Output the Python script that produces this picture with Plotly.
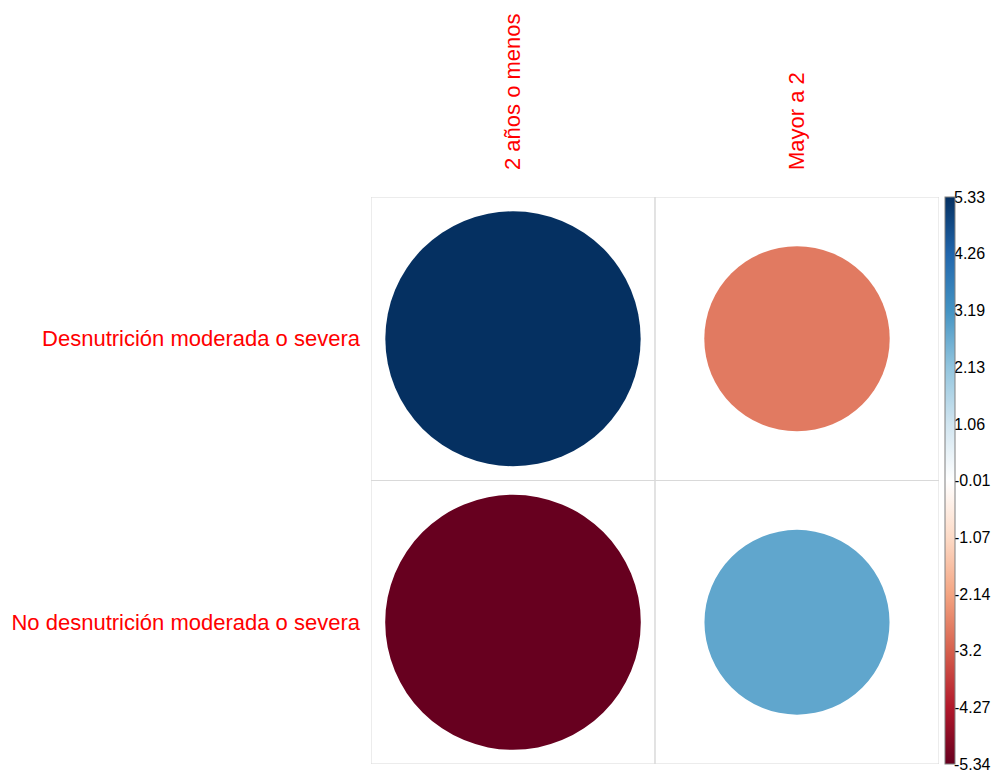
import math
import plotly.graph_objects as go

# Pearson residuals of the contingency table (rows x columns)
row_labels = ["Desnutrición moderada o severa", "No desnutrición moderada o severa"]
col_labels = ["2 años o menos", "Mayor a 2"]
residuals = [
    [5.33, -2.81],
    [-5.34, 2.80],
]

# colour bar limits and tick labels
cl_min, cl_max = -5.34, 5.33
cbar_ticks = [-5.34, -4.27, -3.2, -2.14, -1.07, -0.01, 1.06, 2.13, 3.19, 4.26, 5.33]

# diverging red-blue palette
palette = ["#67001F", "#B2182B", "#D6604D", "#F4A582", "#FDDBC7", "#FFFFFF",
           "#D1E5F0", "#92C5DE", "#4393C3", "#2166AC", "#053061"]
colorscale = [[i / (len(palette) - 1), c] for i, c in enumerate(palette)]


def hex_rgb(h):
    h = h.lstrip("#")
    return tuple(int(h[k:k + 2], 16) for k in (0, 2, 4))


def value_color(v):
    t = (v - cl_min) / (cl_max - cl_min)
    t = min(max(t, 0.0), 1.0)
    pos = t * (len(palette) - 1)
    i = min(int(math.floor(pos)), len(palette) - 2)
    f = pos - i
    a, b = hex_rgb(palette[i]), hex_rgb(palette[i + 1])
    r, g, bl = (round(a[k] + (b[k] - a[k]) * f) for k in range(3))
    return f"rgb({r},{g},{bl})"


n_rows, n_cols = len(row_labels), len(col_labels)
max_abs = max(abs(v) for row in residuals for v in row)
font = "Liberation Sans, Arial, sans-serif"

# figure geometry (pixels)
W, H = 992, 778
left, top, bottom = 371, 197, 14
paper_w = W - left
grid_right = 939
bar_left, bar_w = 945, 10
x_dom_end = (grid_right - left) / paper_w

shapes = []
# cell grid
for i in range(n_rows):
    for j in range(n_cols):
        cx, cy = j + 1, n_rows - i
        shapes.append(dict(type="rect", xref="x", yref="y",
                           x0=cx - 0.5, x1=cx + 0.5, y0=cy - 0.5, y1=cy + 0.5,
                           line=dict(color="#D9D9D9", width=1), layer="below"))
# circles: area proportional to |residual|
xs, vs = [], []
for i in range(n_rows):
    for j in range(n_cols):
        v = residuals[i][j]
        cx, cy = j + 1, n_rows - i
        r = 0.45 * math.sqrt(abs(v) / max_abs)
        shapes.append(dict(type="circle", xref="x", yref="y",
                           x0=cx - r, x1=cx + r, y0=cy - r, y1=cy + r,
                           fillcolor=value_color(v), line=dict(width=0),
                           layer="above"))
        xs.append(cx)
        vs.append(v)

fig = go.Figure()
# invisible markers carrying the colour scale (drawn on the colour-bar axis)
fig.add_trace(go.Scatter(
    x=xs, y=vs, xaxis="x", yaxis="y2", mode="markers", hoverinfo="skip",
    marker=dict(size=1, opacity=0, color=vs, colorscale=colorscale,
                cmin=cl_min, cmax=cl_max, showscale=True,
                colorbar=dict(
                    thickness=bar_w, thicknessmode="pixels",
                    len=1, lenmode="fraction", y=0.5, yanchor="middle",
                    x=(bar_left - left) / paper_w, xanchor="left",
                    xpad=0, ypad=0,
                    outlinecolor="#808080", outlinewidth=1,
                    showticklabels=False, ticks="",
                )),
))

fig.update_layout(
    width=W, height=H,
    margin=dict(l=left, r=0, t=top, b=bottom, autoexpand=False),
    paper_bgcolor="white", plot_bgcolor="white",
    showlegend=False,
    shapes=shapes,
    font=dict(family=font),
    xaxis=dict(domain=[0, x_dom_end], range=[0.5, n_cols + 0.5], side="top",
               tickangle=-90, tickmode="array",
               tickvals=list(range(1, n_cols + 1)), ticktext=col_labels,
               showgrid=False, zeroline=False, showline=False, ticks="",
               ticklabelstandoff=26,
               tickfont=dict(family=font, size=22, color="red")),
    yaxis=dict(range=[0.5, n_rows + 0.5],
               tickmode="array", tickvals=[n_rows - i for i in range(n_rows)],
               ticktext=row_labels, showgrid=False, zeroline=False,
               showline=False, ticks="", ticklabelstandoff=10,
               tickfont=dict(family=font, size=22, color="red")),
    # axis holding the colour-bar tick labels
    yaxis2=dict(overlaying="y", anchor="free", side="right",
                position=(bar_left + 8 - left) / paper_w,
                range=[cl_min, cl_max], tickmode="array",
                tickvals=cbar_ticks, ticktext=[str(t) for t in cbar_ticks],
                showgrid=False, zeroline=False, showline=False, ticks="",
                tickfont=dict(family=font, size=16, color="black")),
)

fig.write_html("out.html")
